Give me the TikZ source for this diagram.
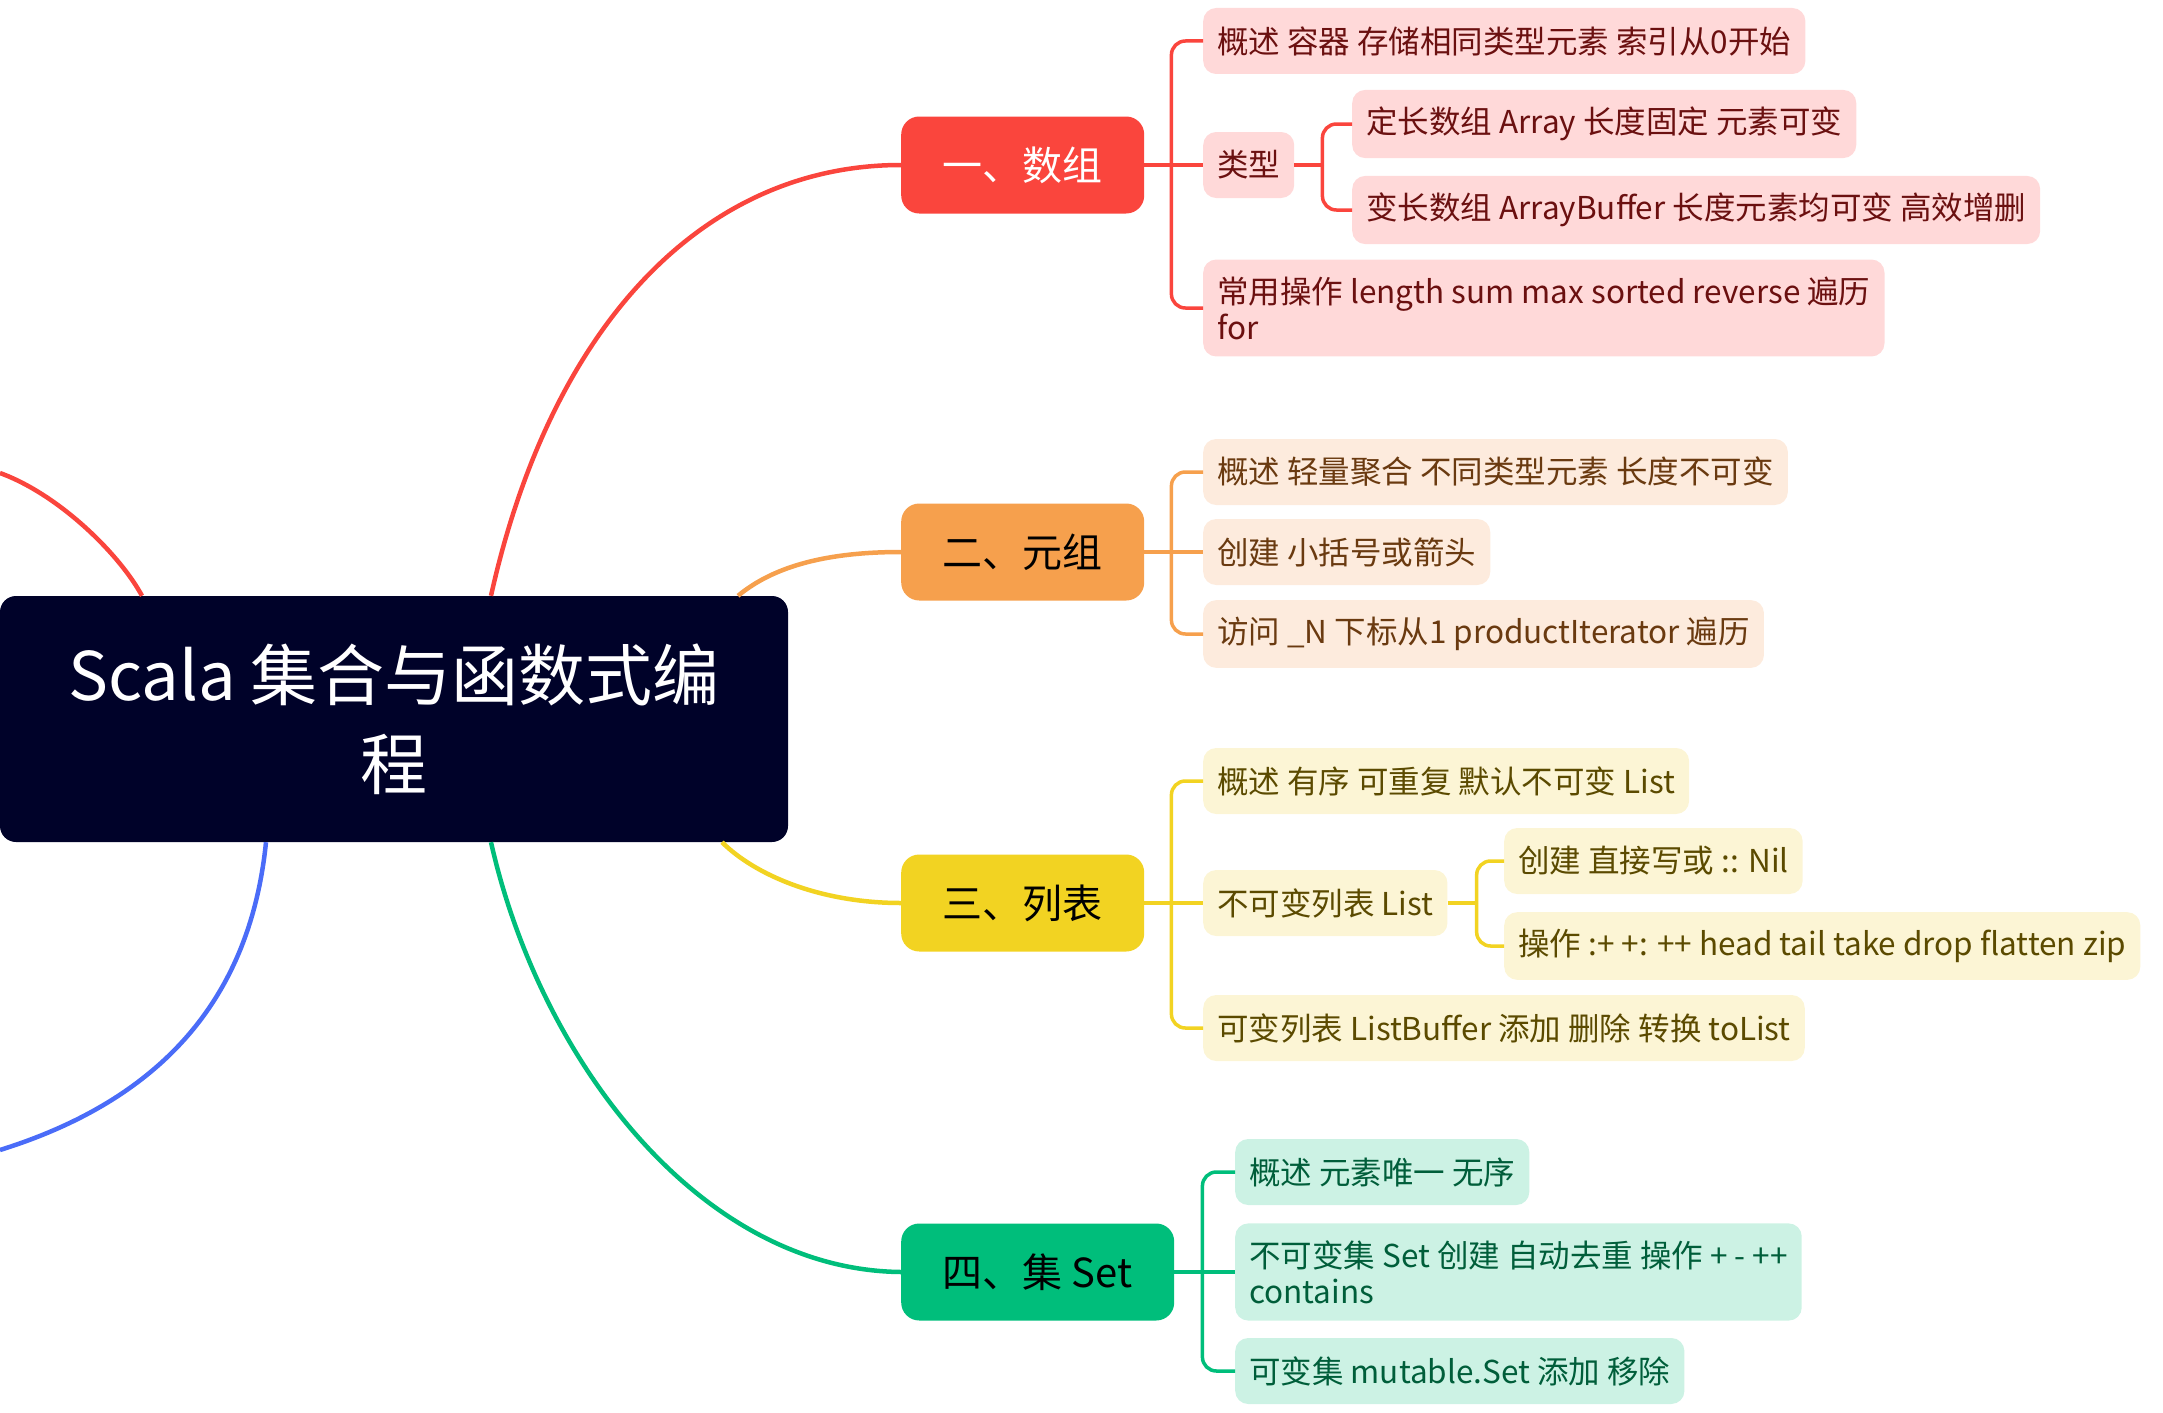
\documentclass[tikz,border=0pt]{standalone}
\usepackage{fontspec}
\setmainfont{Noto Sans CJK SC}
\usetikzlibrary{calc}
\definecolor{rootc}{HTML}{000229}
\definecolor{arrc}{HTML}{FA453D}
\definecolor{arrfill}{HTML}{FFD9D9}
\definecolor{arrtext}{HTML}{6B1010}
\definecolor{tupc}{HTML}{F6A04D}
\definecolor{tupfill}{HTML}{FDEBDD}
\definecolor{tuptext}{HTML}{6A3A10}
\definecolor{lstc}{HTML}{F2D322}
\definecolor{lstfill}{HTML}{FCF5D5}
\definecolor{lsttext}{HTML}{5B4A00}
\definecolor{setc}{HTML}{00BE7B}
\definecolor{setfill}{HTML}{CCF2E4}
\definecolor{settext}{HTML}{005E3A}
\definecolor{leftc}{HTML}{4A6CF8}

\begin{document}
\begin{tikzpicture}[
    x=1pt, y=-1pt,
    rootnode/.style={rectangle, rounded corners=16pt, fill=rootc, text=white,
                     minimum width=788pt, minimum height=246pt, align=center,
                     font=\fontsize{67}{89}\selectfont},
    topic/.style={rectangle, rounded corners=18pt, minimum width=243pt,
                  minimum height=97pt, inner xsep=41pt, anchor=west,
                  font=\fontsize{40}{48}\selectfont},
    leaf/.style={rectangle, rounded corners=13pt, minimum height=66pt,
                 inner xsep=14pt, inner ysep=17pt, anchor=west, align=left,
                 font=\fontsize{31.5}{36}\selectfont},
    arrleaf/.style={leaf, fill=arrfill, text=arrtext},
    tupleaf/.style={leaf, fill=tupfill, text=tuptext},
    lstleaf/.style={leaf, fill=lstfill, text=lsttext},
    setleaf/.style={leaf, fill=setfill, text=settext},
    curve/.style={line width=4.5pt},
    bracket/.style={line width=3.5pt},
]

\useasboundingbox (0,0) rectangle (2163,1413);

% ── Root ──
\node[rootnode] (root) at (394,719) {Scala 集合与函数式编\\程};

% ── Topics ──
\node[topic, fill=arrc, text=white] (arr) at (901,165) {一、数组};
\node[topic, fill=tupc] (tup) at (901,552) {二、元组};
\node[topic, fill=lstc] (lst) at (901,903) {三、列表};
\node[topic, fill=setc, minimum width=273pt] (set) at (901,1272) {四、集 Set};

% ── Leaves: 数组 ──
\node[arrleaf] (arr-a)  at (1203,41)  {概述 容器 存储相同类型元素 索引从0开始};
\node[arrleaf] (arr-b)  at (1203,165) {类型};
\node[arrleaf] (arr-b1) at (1352,124) {定长数组 Array 长度固定 元素可变};
\node[arrleaf] (arr-b2) at (1352,210) {变长数组 ArrayBuffer 长度元素均可变 高效增删};
\node[arrleaf] (arr-c)  at (1203,308) {常用操作 length sum max sorted reverse 遍历\\for};

% ── Leaves: 元组 ──
\node[tupleaf] (tup-a) at (1203,472) {概述 轻量聚合 不同类型元素 长度不可变};
\node[tupleaf] (tup-b) at (1203,552) {创建 小括号或箭头};
\node[tupleaf] (tup-c) at (1203,634) {访问 \_N 下标从1 productIterator 遍历};

% ── Leaves: 列表 ──
\node[lstleaf] (lst-a)  at (1203,781)  {概述 有序 可重复 默认不可变 List};
\node[lstleaf] (lst-b)  at (1203,903)  {不可变列表 List};
\node[lstleaf] (lst-b1) at (1504,861)  {创建 直接写或 :: Nil};
\node[lstleaf] (lst-b2) at (1504,946)  {操作 :+ +: ++ head tail take drop flatten zip};
\node[lstleaf] (lst-c)  at (1203,1028) {可变列表 ListBuffer 添加 删除 转换 toList};

% ── Leaves: 集 ──
\node[setleaf] (set-a) at (1235,1172) {概述 元素唯一 无序};
\node[setleaf] (set-b) at (1235,1272) {不可变集 Set 创建 自动去重 操作 + - ++\\contains};
\node[setleaf] (set-c) at (1235,1371) {可变集 mutable.Set 添加 移除};

% ── Curves from root ──
\coordinate (lt) at (0,473);
\coordinate (lb) at (0,1150);
\draw[curve, arrc] ([xshift=-252pt]root.north) .. controls (120,555) and (60,495) .. (lt);
\draw[curve, leftc] ([xshift=-128pt]root.south) .. controls (250,1000) and (160,1100) .. (lb);
\draw[curve, arrc] ([xshift=97pt]root.north) .. controls (550,330) and (700,165) .. (arr.west);
\draw[curve, tupc] ([xshift=344pt]root.north) .. controls (775,565) and (830,552) .. (tup.west);
\draw[curve, lstc] ([xshift=328pt]root.south) .. controls (755,875) and (820,903) .. (lst.west);
\draw[curve, setc] ([xshift=97pt]root.south) .. controls (540,1060) and (700,1270) .. (set.west);

% ── Brackets ──
\coordinate (arr-j) at ($(arr.east)+(27,0)$);
\draw[bracket, arrc] (arr.east) -- (arr-b.west);
\foreach \leaf in {arr-a, arr-c}
    \draw[bracket, arrc, rounded corners=14pt] (arr-j) |- (\leaf.west);

\coordinate (arr-b-j) at ($(arr-b.east)+(28,0)$);
\draw[bracket, arrc] (arr-b.east) -- (arr-b-j);
\foreach \leaf in {arr-b1, arr-b2}
    \draw[bracket, arrc, rounded corners=14pt] (arr-b-j) |- (\leaf.west);

\coordinate (tup-j) at ($(tup.east)+(27,0)$);
\draw[bracket, tupc] (tup.east) -- (tup-b.west);
\foreach \leaf in {tup-a, tup-c}
    \draw[bracket, tupc, rounded corners=14pt] (tup-j) |- (\leaf.west);

\coordinate (lst-j) at ($(lst.east)+(27,0)$);
\draw[bracket, lstc] (lst.east) -- (lst-b.west);
\foreach \leaf in {lst-a, lst-c}
    \draw[bracket, lstc, rounded corners=14pt] (lst-j) |- (\leaf.west);

\coordinate (lst-b-j) at ($(lst-b.east)+(29,0)$);
\draw[bracket, lstc] (lst-b.east) -- (lst-b-j);
\foreach \leaf in {lst-b1, lst-b2}
    \draw[bracket, lstc, rounded corners=14pt] (lst-b-j) |- (\leaf.west);

\coordinate (set-j) at ($(set.east)+(28,0)$);
\draw[bracket, setc] (set.east) -- (set-b.west);
\foreach \leaf in {set-a, set-c}
    \draw[bracket, setc, rounded corners=14pt] (set-j) |- (\leaf.west);

\end{tikzpicture}
\end{document}
